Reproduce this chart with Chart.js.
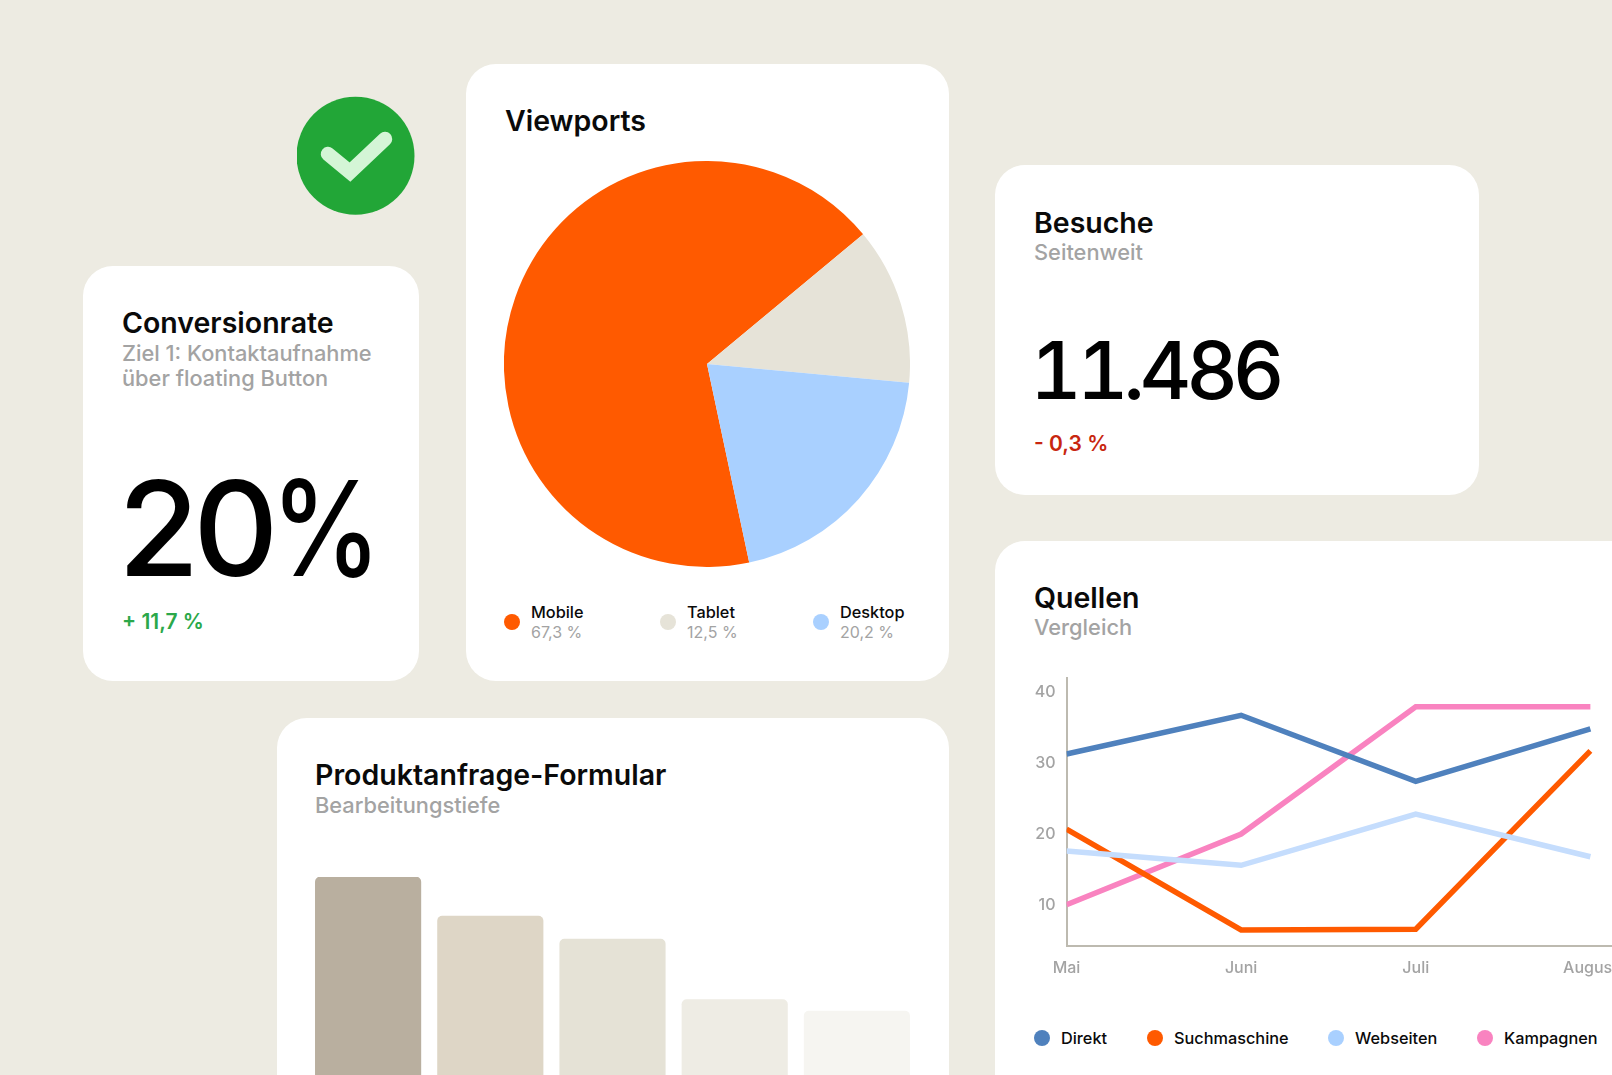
<!DOCTYPE html>
<html lang="de">
<head>
<meta charset="utf-8">
<title>Dashboard</title>
<script src="https://cdn.jsdelivr.net/npm/chart.js@4/dist/chart.umd.js"></script>
<style>
    html, body { margin: 0; padding: 0; width: 1612px; height: 1075px; overflow: hidden; }
    body { position: relative; background: #edebe2; font-family: Inter, sans-serif; color: #0a0a0a; }
    .card { position: absolute; background: #fff; border-radius: 30px; }
    .abs { position: absolute; white-space: nowrap; }
    .title { font-size: 28.5px; font-weight: 600; line-height: 34px; }
    .sub { font-size: 21.8px; font-weight: 500; line-height: 26px; color: #a3a3a3; }
    .dot { position: absolute; width: 16px; height: 16px; border-radius: 50%; }
    .legend-name { font-size: 16.3px; font-weight: 500; line-height: 20px; }
    .legend-value { font-size: 16px; font-weight: 400; line-height: 20px; color: #a3a3a3; }
    canvas { position: absolute; }
</style>
</head>
<body>

<div class="card" style="left:83px;top:266px;width:336px;height:415px"></div>
<div class="card" style="left:465.5px;top:64px;width:483px;height:617px"></div>
<div class="card" style="left:995px;top:165px;width:484px;height:330px"></div>
<div class="card" style="left:995px;top:540.5px;width:700px;height:600px"></div>
<div class="card" style="left:276.5px;top:717.5px;width:672px;height:450px"></div>

<svg class="abs" style="left:297px;top:96px" width="120" height="120" viewBox="0 0 120 120">
    <circle cx="58.5" cy="59.8" r="59" fill="#22a637"></circle>
    <polyline points="31,58 53,76 88,43" fill="none" stroke="#d4f5d6" stroke-width="14.5" stroke-linecap="round" stroke-linejoin="miter"></polyline>
</svg>

<div class="abs title" style="left:122px;top:306px">Conversionrate</div>
<div class="abs sub" style="left:122px;top:340px">Ziel 1: Kontaktaufnahme</div>
<div class="abs sub" style="left:122px;top:365px">über floating Button</div>
<div class="abs" style="left:118px;top:450px;font-size:132px;font-weight:550;line-height:156px;letter-spacing:-6px;color:#000">20<span style="display:inline-block;margin-left:-2px;transform:scaleX(0.84);transform-origin:left center">%</span></div>
<div class="abs" style="left:122px;top:609px;font-size:21px;font-weight:600;line-height:26px;color:#2ba84a">+ 11,7 %</div>

<div class="abs title" style="left:505px;top:104px">Viewports</div>

<div class="abs title" style="left:1034px;top:206px">Besuche</div>
<div class="abs sub" style="left:1034px;top:239px">Seitenweit</div>
<div class="abs" style="left:1030px;top:322px;font-size:80px;font-weight:550;line-height:96px;letter-spacing:-5.2px;font-variant-numeric:tabular-nums;color:#000">11.486</div>
<div class="abs" style="left:1034px;top:431px;font-size:21px;font-weight:600;line-height:26px;color:#c8260f">- 0,3 %</div>

<div class="abs title" style="left:1034px;top:581px">Quellen</div>
<div class="abs sub" style="left:1034px;top:614px">Vergleich</div>

<div class="abs title" style="left:315px;top:758px">Produktanfrage-Formular</div>
<div class="abs sub" style="left:315px;top:792px">Bearbeitungstiefe</div>

<canvas id="pieChart" width="406" height="406" style="left:504px;top:161px"></canvas>
<canvas id="barChart" width="611" height="250" style="left:307px;top:877px"></canvas>
<canvas id="lineChart" width="762" height="329" style="left:1016px;top:657px"></canvas>

<div id="pieLegend"></div>
<div id="lineLegend"></div>

<script>
// Viewports
const viewportLabels = ["Mobile", "Tablet", "Desktop"];
const viewportValues = [67.3, 12.5, 20.2];
const viewportColors = ["#ff5a00", "#e6e3d8", "#a9d0ff"];
const viewportLegendX = [512, 668, 821];

// Produktanfrage-Formular
const formSteps = ["Schritt 1", "Schritt 2", "Schritt 3", "Schritt 4", "Schritt 5"];
const formValues = [100, 84.4, 75.2, 51, 46.4];
const formColors = ["#b9af9f", "#ded6c6", "#e5e2d6", "#eeece4", "#f6f5f1"];

// Quellen
const months = ["Mai", "Juni", "Juli", "August", ""];
const yTicks = [10, 20, 30, 40];
const direkt = [31.25, 36.7, 27.4, 34.8];
const suchmaschine = [20.7, 6.5, 6.6, 31.7];
const webseiten = [17.6, 15.6, 22.8, 16.8];
const kampagnen = [10.05, 20, 37.9, 37.9];
const sourceLabels = ["Direkt", "Suchmaschine", "Webseiten", "Kampagnen"];
const sourceColors = ["#4f81bd", "#ff5a00", "#c5ddfd", "#f983c0"];
const sourceDotColors = ["#4f81bd", "#ff5a00", "#a9d0ff", "#f983c0"];
const sourceLegendX = [1042, 1155, 1336, 1485];

const tickColor = "#a3a3a3";

function addLegendItem(parent, x, y, color, name, value) {
    const dot = document.createElement("div");
    dot.className = "dot";
    dot.style.left = (x - 8) + "px";
    dot.style.top = (y - 8) + "px";
    dot.style.background = color;
    parent.appendChild(dot);

    const label = document.createElement("div");
    label.className = "abs legend-name";
    label.style.left = (x + 19) + "px";
    label.style.top = (value ? y - 20 : y - 10) + "px";
    label.textContent = name;
    parent.appendChild(label);

    if (value) {
        const sub = document.createElement("div");
        sub.className = "abs legend-value";
        sub.style.left = (x + 19) + "px";
        sub.style.top = y + "px";
        sub.textContent = value;
        parent.appendChild(sub);
    }
}

viewportLabels.forEach((name, i) => {
    const text = viewportValues[i].toFixed(1).replace(".", ",") + " %";
    addLegendItem(document.getElementById("pieLegend"), viewportLegendX[i], 622, viewportColors[i], name, text);
});

sourceLabels.forEach((name, i) => {
    addLegendItem(document.getElementById("lineLegend"), sourceLegendX[i], 1038, sourceDotColors[i], name);
});

new Chart(document.getElementById("pieChart"), {
    type: "pie",
    data: {
        labels: viewportLabels,
        datasets: [{
            data: viewportValues,
            backgroundColor: viewportColors,
            borderWidth: 0
        }]
    },
    options: {
        responsive: false,
        animation: false,
        rotation: 168,
        plugins: { legend: { display: false }, tooltip: { enabled: false } }
    }
});

new Chart(document.getElementById("barChart"), {
    type: "bar",
    data: {
        labels: formSteps,
        datasets: [{
            data: formValues,
            backgroundColor: formColors,
            borderRadius: { topLeft: 5, topRight: 5 },
            borderSkipped: "bottom",
            barThickness: 105.5
        }]
    },
    options: {
        responsive: false,
        animation: false,
        scales: {
            x: { display: false },
            y: { display: false, min: 0, max: 100 }
        },
        plugins: { legend: { display: false }, tooltip: { enabled: false } }
    }
});

function lineSeries(index, values) {
    return {
        label: sourceLabels[index],
        data: values,
        borderColor: sourceColors[index],
        borderWidth: 5.5,
        tension: 0,
        pointRadius: 0,
        clip: 0
    };
}

// first dataset ends up on top
new Chart(document.getElementById("lineChart"), {
    type: "line",
    data: {
        labels: months,
        datasets: [
            lineSeries(0, direkt),
            lineSeries(2, webseiten),
            lineSeries(1, suchmaschine),
            lineSeries(3, kampagnen)
        ]
    },
    options: {
        responsive: false,
        animation: false,
        scales: {
            x: {
                offset: false,
                grid: { drawOnChartArea: false, drawTicks: false },
                border: { color: "#bdbab0", width: 2 },
                ticks: {
                    color: tickColor,
                    font: { family: "Inter", size: 16, weight: "500" },
                    padding: 13,
                    maxRotation: 0,
                    autoSkip: false
                },
                afterFit: scale => { scale.height = 40; }
            },
            y: {
                min: 4.25,
                max: 42,
                grid: { drawOnChartArea: false, drawTicks: false },
                border: { color: "#bdbab0", width: 2 },
                ticks: {
                    color: tickColor,
                    font: { family: "Inter", size: 16, weight: "500" },
                    padding: 11
                },
                afterBuildTicks: scale => { scale.ticks = yTicks.map(v => ({ value: v })); },
                afterFit: scale => { scale.width = 50.5; }
            }
        },
        plugins: { legend: { display: false }, tooltip: { enabled: false } }
    }
});
</script>
</body>
</html>
